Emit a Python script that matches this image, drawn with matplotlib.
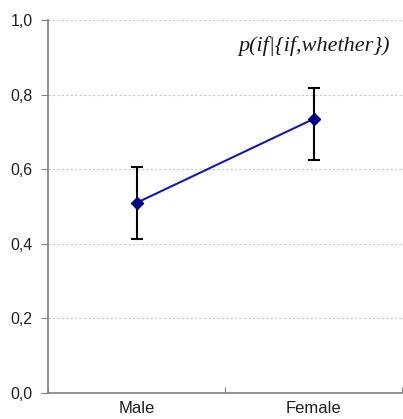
import numpy as np
import matplotlib
matplotlib.use('Agg')
import matplotlib.pyplot as plt

# data
groups = ['Male', 'Female']
means = [0.51, 0.735]
upper = [0.607, 0.818]
lower = [0.413, 0.625]
yticks = [0.0, 0.2, 0.4, 0.6, 0.8, 1.0]

x = np.array([0.5, 1.5])
err = [np.array(means) - np.array(lower), np.array(upper) - np.array(means)]

fig = plt.figure(figsize=(4.03, 4.19), dpi=100)
ax = fig.add_axes([0.119, 0.062, 0.879, 0.890])

for y in yticks[1:]:
    ax.axhline(y, color='#c8c8c8', linestyle=(0, (2, 2)), linewidth=0.8, zorder=0)

ax.errorbar(x, means, yerr=err, fmt='none', ecolor='black', elinewidth=1.5,
            capsize=4.5, capthick=1.5, zorder=2)
ax.plot(x, means, color='#1a1aa0', linewidth=1.5, marker='D', markersize=6,
        markerfacecolor='#000080', markeredgecolor='#000080', zorder=3)

ax.set_xlim(0, 2)
ax.set_ylim(0, 1.0)
ax.set_yticks(yticks)
ax.set_yticklabels([('%.1f' % v).replace('.', ',') for v in yticks],
                   fontname='Liberation Sans', fontsize=11.5, color='#202020')
ax.set_xticks([0, 1, 2])
ax.set_xticklabels([])
ax.set_xticks(x, minor=True)
ax.set_xticklabels(groups, minor=True, fontname='Liberation Sans', fontsize=12,
                   color='#202020')
ax.tick_params(axis='x', which='minor', length=0, pad=6)
ax.tick_params(axis='x', which='major', length=4, direction='in', color='#808080')
ax.tick_params(axis='y', length=5, direction='out', color='#808080', pad=6)

for side in ['top', 'right']:
    ax.spines[side].set_visible(False)
for side in ['left', 'bottom']:
    ax.spines[side].set_color('#808080')
    ax.spines[side].set_linewidth(1.2)

ax.text(0.965, 0.93, r'p(if|{if,whether})', transform=ax.transAxes,
        ha='right', va='center', fontname='Liberation Serif', style='italic',
        fontsize=16, color='#1a1a1a')

fig.savefig('out.png', dpi=100)
